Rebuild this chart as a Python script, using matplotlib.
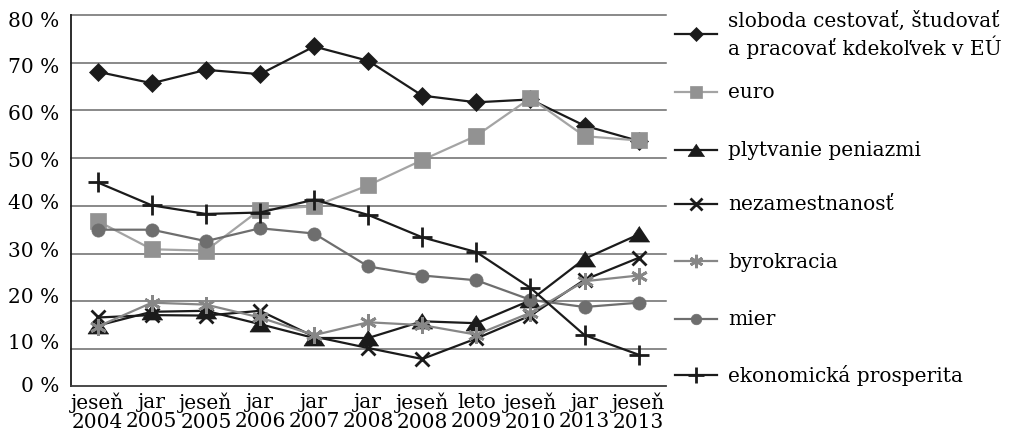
import matplotlib
matplotlib.use("Agg")
import matplotlib.pyplot as plt
from matplotlib.lines import Line2D

plt.rcParams["font.family"] = ["DejaVu Serif"]

# survey waves (x axis)
periods = ["jeseň\n2004", "jar\n2005", "jeseň\n2005", "jar\n2006", "jar\n2007",
           "jar\n2008", "jeseň\n2008", "leto\n2009", "jeseň\n2010", "jar\n2013",
           "jeseň\n2013"]

# share of respondents (%)
sloboda = [68.1, 65.7, 68.5, 67.6, 73.4, 70.4, 63.1, 61.7, 62.3, 56.8, 53.6]
euro = [36.8, 30.9, 30.6, 39.2, 39.9, 44.3, 49.6, 54.7, 62.6, 54.6, 53.7]
plytvanie = [14.9, 17.8, 18.0, 15.2, 12.3, 12.3, 15.8, 15.4, 20.2, 28.9, 34.0]
nezamestnanost = [16.6, 17.1, 17.0, 18.0, 12.6, 10.2, 7.9, 12.2, 17.0, 24.5, 29.1]
byrokracia = [14.7, 19.7, 19.3, 16.6, 12.9, 15.6, 15.0, 13.0, 17.6, 24.2, 25.4]
mier = [35.0, 35.0, 32.6, 35.3, 34.2, 27.3, 25.4, 24.4, 20.3, 18.8, 19.7]
prosperita = [44.9, 40.1, 38.3, 38.6, 41.3, 38.1, 33.4, 30.3, 22.8, 12.9, 8.8]

series_labels = ["sloboda cestovať, študovať\na pracovať kdekoľvek v EÚ", "euro",
                 "plytvanie peniazmi", "nezamestnanosť", "byrokracia", "mier",
                 "ekonomická prosperita"]

grid_values = [10, 20, 30, 40, 50, 60, 70, 80]
ytick_labels = ["80 %", "70 %", "60 %", "50 %", "40 %", "30 %", "20 %", "10 %", "0 %"]

BLACK = "#1b1b1b"
tri = [(0, 0.78), (-1, -0.72), (1, -0.72)]
styles = [
    dict(color=BLACK, lw=1.6, marker="D", ms=9.5, mfc=BLACK, mec=BLACK, mew=0.5),
    dict(color="#a4a4a4", lw=1.6, marker="s", ms=11.5, mfc="#929292", mec="#929292", mew=0.5),
    dict(color=BLACK, lw=1.6, marker=tri, ms=15, mfc=BLACK, mec=BLACK, mew=0.5),
    dict(color=BLACK, lw=1.6, marker="x", ms=10, mfc=BLACK, mec=BLACK, mew=2.0),
    dict(color="#878787", lw=1.6, marker=(6, 2, 0), ms=12, mfc="#878787", mec="#878787", mew=2.0),
    dict(color="#6e6e6e", lw=1.6, marker="o", ms=9.5, mfc="#6e6e6e", mec="#6e6e6e", mew=0.5),
    dict(color=BLACK, lw=1.6, marker="+", ms=14, mfc=BLACK, mec=BLACK, mew=2.0),
]
data = [sloboda, euro, plytvanie, nezamestnanost, byrokracia, mier, prosperita]

W, H = 1016, 435
fig = plt.figure(figsize=(W / 100, H / 100), dpi=100)
ax = fig.add_axes([70.7 / W, 1 - 387 / H, (665.7 - 70.7) / W, (387 - 16) / H])

x = list(range(len(periods)))
for g in grid_values:
    ax.axhline(g, color="#6a6a6a", lw=1.1, zorder=1, clip_on=False)

for vals, st in zip(data, styles):
    ax.plot(x, vals, zorder=3, clip_on=False, **st)

ax.set_xlim(-0.5, len(periods) - 0.5)
ax.set_ylim(2.24, 80)

ax.set_xticks(x)
ax.set_xticklabels(periods, fontsize=14.5, linespacing=1.0)
ax.tick_params(axis="x", length=0, pad=4)

ytick_pos = [79.3, 69.7, 59.8, 50.0, 41.1, 31.1, 21.5, 11.7, 2.7]
ax.set_yticks(ytick_pos)
ax.set_yticklabels(ytick_labels, fontsize=14.5)
ax.tick_params(axis="y", length=0, pad=8)

for side in ("top", "right"):
    ax.spines[side].set_visible(False)
ax.spines["left"].set_color(BLACK)
ax.spines["left"].set_linewidth(1.3)
ax.spines["bottom"].set_color("#3a3a3a")
ax.spines["bottom"].set_linewidth(1.3)

# key on the right
legend_y = [35, 93, 151, 205, 262, 320, 376]
hx0, hx1, tx = 675 / W, 717 / W, 728 / W
for lab, st, yp in zip(series_labels, styles, legend_y):
    yf = 1 - yp / H
    s = dict(st)
    s["ms"] = st["ms"] * 0.8
    fig.add_artist(Line2D([hx0, (hx0 + hx1) / 2, hx1], [yf, yf, yf],
                          transform=fig.transFigure, markevery=[1], **s))
    fig.text(tx, yf, lab, ha="left", va="center", fontsize=14.5, linespacing=1.25)

fig.savefig("out.png", dpi=100)
